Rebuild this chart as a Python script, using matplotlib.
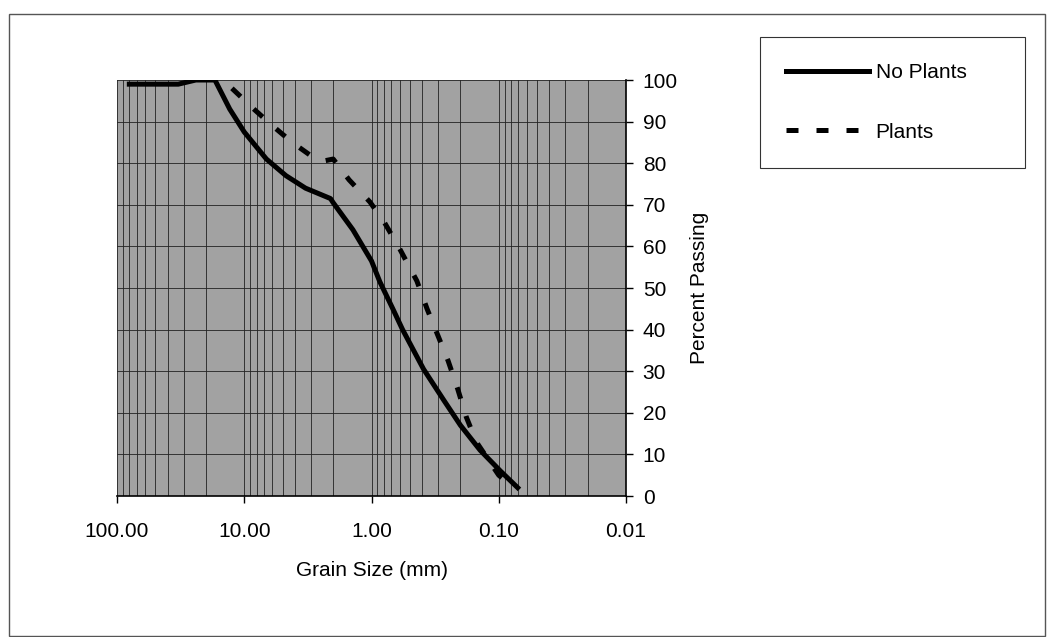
import matplotlib
matplotlib.use('Agg')
import matplotlib.pyplot as plt
from matplotlib.ticker import FixedLocator, LogLocator, NullFormatter
from matplotlib.patches import Rectangle

plt.rcParams['font.family'] = ['Liberation Sans', 'DejaVu Sans']

# grain size (mm) / percent passing
size_no_plants = [80, 33, 24, 17, 13, 10, 6.7, 4.7, 3.3, 2.1, 2.0, 1.4, 1.0,
                  0.86, 0.68, 0.57, 0.39, 0.27, 0.20, 0.14, 0.097, 0.071]
pass_no_plants = [99, 99, 100, 100, 93, 87.5, 81, 77, 74, 71.5, 70.5, 64, 56.5,
                  51.5, 45, 40, 30.5, 23, 17, 11, 6, 2]

size_plants = [12.5, 8.4, 6.0, 4.2, 2.9, 2.4, 2.0, 1.5, 1.03, 0.8, 0.6,
               0.44, 0.366, 0.3, 0.25, 0.21, 0.18, 0.15, 0.1, 0.075]
pass_plants = [98, 93, 89, 85, 81.5, 80.5, 81, 76, 70.7, 66, 59.4,
               51.7, 45, 38.5, 32.5, 25.7, 19, 13, 5, 1.7]

x_ticks = [100, 10, 1, 0.1, 0.01]
x_labels = ['100.00', '10.00', '1.00', '0.10', '0.01']
y_ticks = list(range(0, 101, 10))

fig = plt.figure(figsize=(10.53, 6.37), dpi=100)
W, H = 1053, 637

# outer chart border
fig.patches.append(Rectangle((9 / W, 1 / H), 1036 / W, (H - 14 - 1) / H,
                             transform=fig.transFigure, fill=False,
                             edgecolor='#555555', lw=1))

ax = fig.add_axes([117 / W, 1 - 496 / H, (626 - 117) / W, (496 - 80) / H])
ax.set_facecolor('#a2a2a2')
ax.set_xscale('log')
ax.set_xlim(100, 0.01)
ax.set_ylim(0, 100)

ax.xaxis.set_major_locator(FixedLocator(x_ticks))
ax.set_xticklabels(x_labels)
ax.xaxis.set_minor_locator(LogLocator(base=10, subs=range(2, 10)))
ax.xaxis.set_minor_formatter(NullFormatter())
ax.set_yticks(y_ticks)

ax.grid(True, which='both', axis='x', color='#222222', lw=0.6)
ax.grid(True, which='major', axis='y', color='#222222', lw=0.6)
ax.set_axisbelow(True)

ax.yaxis.tick_right()
ax.yaxis.set_label_position('right')
ax.tick_params(axis='both', which='major', direction='out', length=5,
               width=1, color='black', labelsize=15)
ax.tick_params(axis='x', which='major', pad=14)
ax.tick_params(axis='y', which='major', pad=7)
ax.tick_params(axis='x', which='minor', length=0)

for s in ['top', 'left']:
    ax.spines[s].set_visible(False)
for s in ['bottom', 'right']:
    ax.spines[s].set_color('black')
    ax.spines[s].set_linewidth(1.2)

ax.plot(size_no_plants, pass_no_plants, color='black', lw=3.6,
        solid_joinstyle='round', label='No Plants')
ax.plot(size_plants, pass_plants, color='black', lw=3.6,
        dashes=(2.4, 3.6), dash_capstyle='butt', label='Plants')

ax.set_xlabel('Grain Size (mm)', fontsize=15, labelpad=14)
ax.set_ylabel('Percent Passing', fontsize=15, labelpad=9)

leg = fig.legend(loc='upper left',
                 bbox_to_anchor=(760 / W, 1 - 37 / H, 265 / W, 0),
                 mode='expand', fontsize=15, handlelength=4,
                 handletextpad=0.3, borderpad=1.25, labelspacing=1.95,
                 frameon=True, fancybox=False, borderaxespad=0)
leg.get_frame().set_edgecolor('black')
leg.get_frame().set_linewidth(0.8)

fig.savefig('out.png', dpi=100, facecolor='white')
